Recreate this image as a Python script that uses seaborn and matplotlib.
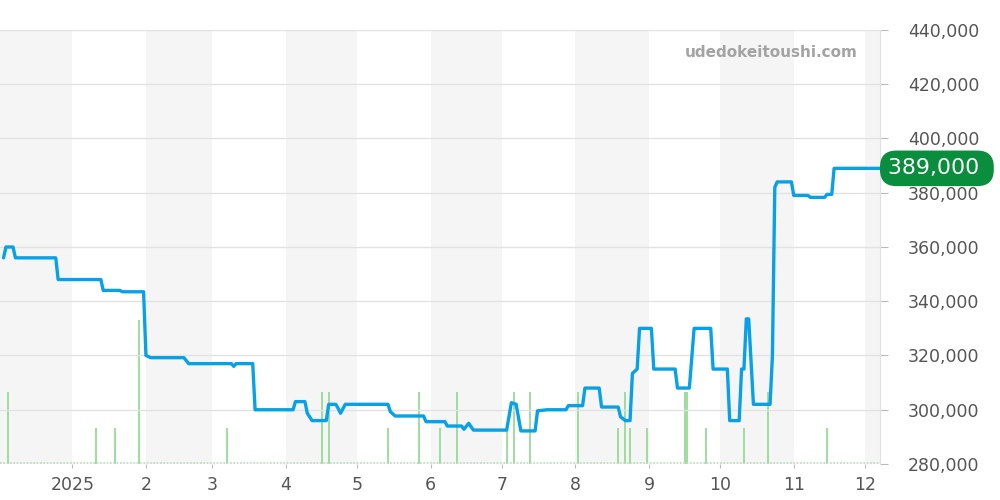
import numpy as np
import pandas as pd
import matplotlib.pyplot as plt
import seaborn as sns

# price history (date, yen)
price_dates = [
    "2024-12-03", "2024-12-04", "2024-12-07", "2024-12-08", "2024-12-25", "2024-12-26",
    "2025-01-13", "2025-01-14", "2025-01-21", "2025-01-22", "2025-01-31", "2025-02-01",
    "2025-02-03", "2025-02-17", "2025-02-19", "2025-03-09", "2025-03-10", "2025-03-11",
    "2025-03-18", "2025-03-19", "2025-04-04", "2025-04-05", "2025-04-09", "2025-04-10",
    "2025-04-12", "2025-04-18", "2025-04-19", "2025-04-22", "2025-04-23", "2025-04-24",
    "2025-04-26", "2025-05-14", "2025-05-15", "2025-05-17", "2025-05-29", "2025-05-30",
    "2025-06-07", "2025-06-08", "2025-06-14", "2025-06-15", "2025-06-17", "2025-06-19",
    "2025-07-03", "2025-07-05", "2025-07-07", "2025-07-09", "2025-07-15", "2025-07-16",
    "2025-07-20", "2025-07-28", "2025-07-29", "2025-08-04", "2025-08-05", "2025-08-11",
    "2025-08-12", "2025-08-19", "2025-08-20", "2025-08-22", "2025-08-24", "2025-08-25",
    "2025-08-27", "2025-08-28", "2025-09-02", "2025-09-03", "2025-09-12", "2025-09-13",
    "2025-09-18", "2025-09-20", "2025-09-27", "2025-09-28", "2025-10-04", "2025-10-05",
    "2025-10-09", "2025-10-10", "2025-10-11", "2025-10-12", "2025-10-13", "2025-10-15",
    "2025-10-22", "2025-10-23", "2025-10-24", "2025-10-25", "2025-10-31", "2025-11-01",
    "2025-11-07", "2025-11-08", "2025-11-14", "2025-11-15", "2025-11-17", "2025-11-18",
    "2025-12-08",
]
price_values = [
    356000, 360000, 360000, 356000, 356000, 348000,
    348000, 344000, 344000, 343500, 343500, 320000,
    319200, 319200, 317000, 317000, 316000, 317000,
    317000, 300000, 300000, 303000, 303000, 298700,
    296000, 296000, 302000, 302000, 300500, 298700,
    302000, 302000, 299300, 297700, 297700, 295600,
    295600, 294000, 294000, 292800, 295000, 292500,
    292500, 302600, 302000, 292200, 292200, 299600,
    300000, 300000, 301500, 301500, 308000, 308000,
    301000, 301000, 297400, 296000, 296000, 313400,
    315000, 330000, 330000, 315000, 315000, 308000,
    308000, 330000, 330000, 315000, 315000, 296000,
    296000, 315000, 315000, 333500, 333500, 302000,
    302000, 320000, 382000, 384000, 384000, 379000,
    379000, 378300, 378300, 379400, 379400, 389000,
    389000,
]

# number of trades per day
volume_dates = [
    "2024-12-05", "2025-01-11", "2025-01-19", "2025-01-29", "2025-03-07",
    "2025-04-16", "2025-04-19", "2025-05-14", "2025-05-27", "2025-06-05",
    "2025-06-12", "2025-07-03", "2025-07-06", "2025-07-13", "2025-08-02",
    "2025-08-19", "2025-08-22", "2025-08-24", "2025-08-31", "2025-09-16",
    "2025-09-17", "2025-09-25", "2025-10-11", "2025-10-21", "2025-11-15",
]
volume_counts = [2, 1, 1, 4, 1, 2, 2, 1, 2, 1, 2, 1, 2, 2, 2, 1, 2, 1, 1, 2, 2, 1, 1, 2, 1]

month_labels = ["2025", "2", "3", "4", "5", "6", "7", "8", "9", "10", "11", "12"]
last_price = 389000

sns.set_style("white")
plt.rcParams['font.family'] = ['DejaVu Sans']

fig = plt.figure(figsize=(10, 5), dpi=100)
axv = fig.add_axes([0, 0.072, 0.88, 0.868])
ax = axv.twinx()

x0 = pd.Timestamp("2024-12-01 12:00")
x1 = pd.Timestamp("2025-12-07 08:00")

# alternating month bands
months = pd.date_range("2024-12-01", "2026-01-01", freq="MS")
for i in range(0, len(months) - 1, 2):
    axv.axvspan(months[i], months[i + 1], color="#f5f5f5", lw=0, zorder=0)

# volume bars
axv.vlines(pd.to_datetime(volume_dates), 0, volume_counts, color="#8ed88e", lw=1.2, zorder=2)
axv.axhline(0.02, color="#b0e2b0", lw=1.2, ls=(0, (1, 1)), zorder=2)
axv.set_ylim(0, 12.05)
axv.set_yticks([])

# price line
df = pd.DataFrame({"date": pd.to_datetime(price_dates), "price": price_values})
sns.lineplot(data=df, x="date", y="price", ax=ax, color="#08a0e6", lw=2.4,
             estimator=None, zorder=5)

ax.set_ylim(280000, 440000)
yt = list(range(280000, 440001, 20000))
ax.set_yticks(yt)
ax.set_yticklabels([f"{v:,}" for v in yt])
ax.yaxis.grid(True, color="#e2e2e2", lw=1)
ax.set_axisbelow(True)
ax.set_xlim(x0, x1)
axv.set_xlim(x0, x1)
ax.set_xlabel("")
ax.set_ylabel("")

axv.set_xticks(months[1:13])
axv.set_xticklabels(month_labels)
axv.tick_params(axis="x", bottom=True, length=3, width=0.8, color="#bbbbbb",
                labelsize=12.5, labelcolor="#555555", pad=5.5)
ax.tick_params(axis="y", right=True, length=5.8, width=0.8, color="#bbbbbb",
               labelsize=12.5, labelcolor="#555555", pad=14.4)

for a in (ax, axv):
    for s in a.spines.values():
        s.set_visible(False)
ax.spines["right"].set_visible(True)
ax.spines["right"].set_color("#e0e0e0")

# current price badge
ax.annotate(f"{last_price:,} ", xy=(1, last_price), xycoords=("axes fraction", "data"),
            xytext=(5.6, 0), textcoords="offset points", ha="left", va="center",
            fontsize=15.8, color="white", annotation_clip=False, zorder=10,
            bbox=dict(boxstyle="round,pad=0.355,rounding_size=0.75", fc="#0a8d3c", ec="none"))

ax.text(0.975, 0.949, "udedokeitoushi.com", transform=ax.transAxes, ha="right",
        va="center", fontsize=11, fontweight="bold", color="#a3a3a3")

fig.savefig("out.png", dpi=100)
